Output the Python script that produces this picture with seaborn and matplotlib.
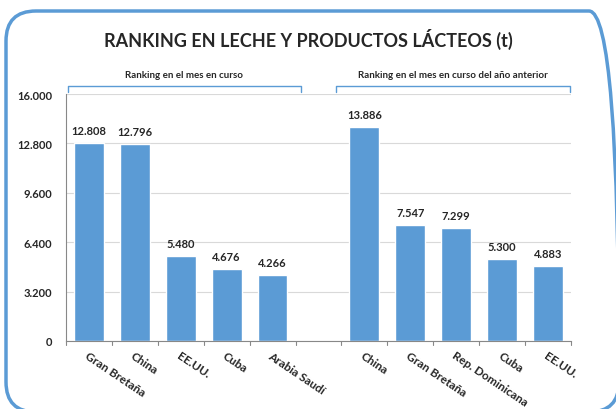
import pandas as pd
import numpy as np
import matplotlib
matplotlib.use('Agg')
import matplotlib.pyplot as plt
import seaborn as sns
from matplotlib.patches import FancyBboxPatch

# datos
paises_actual = ['Gran Bretaña', 'China', 'EE.UU.', 'Cuba', 'Arabia Saudí']
valores_actual = [12808, 12796, 5480, 4676, 4266]
paises_anterior = ['China', 'Gran Bretaña', 'Rep. Dominicana', 'Cuba', 'EE.UU.']
valores_anterior = [13886, 7547, 7299, 5300, 4883]
ticks_y = [0, 3200, 6400, 9600, 12800, 16000]

titulo = 'RANKING EN LECHE Y PRODUCTOS LÁCTEOS (t)'
grupo_actual = 'Ranking en el mes en curso'
grupo_anterior = 'Ranking en el mes en curso del año anterior'

# tabla con un hueco entre los dos grupos
claves = [f'a{i}' for i in range(5)] + ['hueco'] + [f'b{i}' for i in range(5)]
etiquetas = paises_actual + [''] + paises_anterior
valores = valores_actual + [np.nan] + valores_anterior
df = pd.DataFrame({'clave': claves, 'valor': valores})

sns.set_style('white')
plt.rcParams['font.family'] = ['Lato', 'DejaVu Sans']

azul = '#5B9BD5'
fig = plt.figure(figsize=(6.16, 4.10), dpi=100)
ax = fig.add_axes([0.107, 0.166, 0.820, 0.602])

sns.barplot(data=df.dropna(), x='clave', y='valor', order=claves,
            color=azul, saturation=1, width=0.65, ax=ax)

def miles(v):
    return f'{int(v):,}'.replace(',', '.')

for i, v in enumerate(valores):
    if not np.isnan(v):
        ax.text(i, v + 450, miles(v), ha='center', va='bottom',
                fontsize=8, fontweight='bold')

ax.set_ylim(0, 16000)
ax.set_xlim(-0.5, len(claves) - 0.5)
ax.set_yticks(ticks_y)
ax.set_yticklabels([miles(t) for t in ticks_y], fontsize=8, fontweight='bold')
ax.yaxis.grid(True, color='#D9D9D9', linewidth=0.8)
ax.set_axisbelow(True)

ax.set_xticks(range(len(claves)))
ax.set_xticklabels(etiquetas, rotation=-34, ha='left', rotation_mode='anchor',
                   fontsize=8.5, fontweight='bold')
ax.tick_params(axis='x', length=0, pad=6)
ax.tick_params(axis='y', length=4, color='#888888', pad=6)
# marcas entre categorias
for b in np.arange(-0.5, len(claves), 1.0):
    ax.plot([b, b], [0, -250], color='#888888', lw=0.8, clip_on=False)
ax.set_xlabel('')
ax.set_ylabel('')

for s in ['top', 'right']:
    ax.spines[s].set_visible(False)
for s in ['left', 'bottom']:
    ax.spines[s].set_color('#888888')
    ax.spines[s].set_linewidth(0.8)

# corchetes de los grupos
def corchete(x0, x1, texto):
    ax.plot([x0, x0, x1, x1], [16150, 16550, 16550, 16150], color=azul,
            lw=1, clip_on=False)
    ax.text((x0 + x1) / 2, 16950, texto, ha='center', va='bottom',
            fontsize=7, fontweight='bold')

corchete(-0.46, 4.61, grupo_actual)
corchete(5.39, 10.48, grupo_anterior)

fig.text(0.5, 0.903, titulo, ha='center', va='center', fontsize=13,
         fontweight='bold')

# borde redondeado
borde = FancyBboxPatch((0.06, -0.03), 6.13, 4.01, transform=fig.dpi_scale_trans,
                       boxstyle='round,pad=0,rounding_size=0.3',
                       fill=False, edgecolor=azul, linewidth=2.5,
                       clip_on=False)
fig.patches.append(borde)

fig.savefig('out.png', dpi=100)
